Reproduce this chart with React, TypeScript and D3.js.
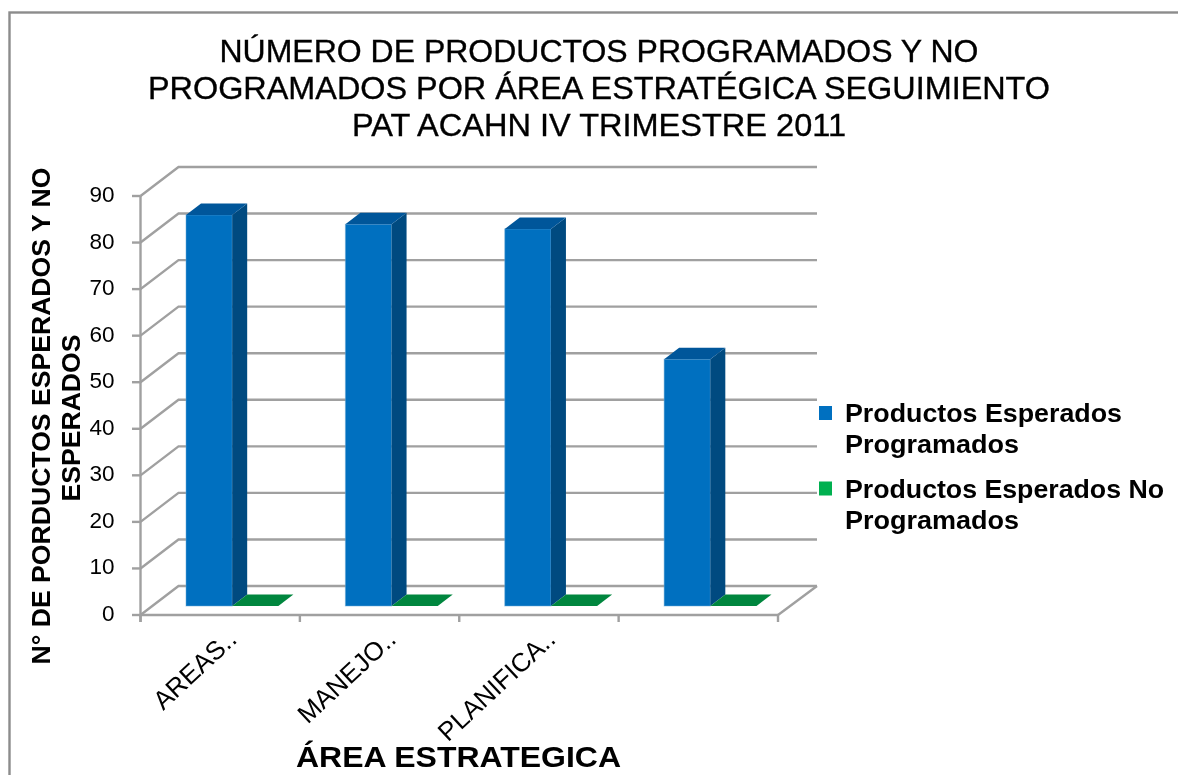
import React from "react";
import * as d3 from "d3";

const categories = ["AREAS..", "MANEJO..", "PLANIFICA..", ""];
const seriesNames = ["Productos Esperados Programados", "Productos Esperados No Programados"];
const programados = [84, 82, 81, 53];
const noProgramados = [0, 0, 0, 0];
const yTicks = [0, 10, 20, 30, 40, 50, 60, 70, 80, 90];
const titleLines = [
  "NÚMERO DE PRODUCTOS PROGRAMADOS Y NO",
  "PROGRAMADOS POR ÁREA ESTRATÉGICA SEGUIMIENTO",
  "PAT ACAHN IV TRIMESTRE 2011",
];
const yTitleLines = ["N° DE PORDUCTOS ESPERADOS Y NO", "ESPERADOS"];
const xTitle = "ÁREA ESTRATEGICA";
const legendLines = [["Productos Esperados", "Programados"], ["Productos Esperados No", "Programados"]];

const FONT = "'Liberation Sans', Arial, sans-serif";
const GRID = "#a0a0a0";
const GRID_W = 2.4;
const depth = { x: 38, y: -29 };
const barDepth = { x: 15, y: -11.5 };
const barFront = { x: 12, y: -9 };
const titleWidths = [759, 902, 494];
const yTitleWidths = [497, 167];
const legendWidths = [[277, 174], [319, 174]];

export default function App() {
  const x = d3.scaleBand<number>().domain(d3.range(categories.length)).range([140.5, 778]);
  const y = d3.scaleLinear().domain([0, 90]).range([615, 196]);
  const inner = d3.scaleBand<number>().domain([0, 1]).range([33.5, x.bandwidth() - 33.5]);
  const poly = (pts: [number, number][]) => pts.map((p) => p.join(",")).join(" ");
  const barBase = y(0) + barFront.y;
  const unit = y(0) - y(1);

  const bar = (cat: number, ser: number, v: number, c: [string, string, string]) => {
    const x0 = x(cat)! + barFront.x + inner(ser)!;
    const x1 = x0 + inner.bandwidth();
    const yb = barBase;
    const yt = barBase - v * unit;
    const dx = barDepth.x;
    const dy = barDepth.y;
    return (
      <g key={`${cat}-${ser}`}>
        {v > 0 && <rect x={x0} y={yt} width={x1 - x0} height={yb - yt} fill={c[0]} stroke="#6aa9d8" strokeOpacity={0.5} strokeWidth={1} />}
        {v > 0 && <polygon points={poly([[x1, yt], [x1 + dx, yt + dy], [x1 + dx, yb + dy], [x1, yb]])} fill={c[1]} />}
        <polygon points={poly([[x0, yt], [x0 + dx, yt + dy], [x1 + dx, yt + dy], [x1, yt]])} fill={c[2]} />
      </g>
    );
  };

  return (
    <svg width={1178} height={775} style={{ position: "fixed", left: 0, top: 0, background: "#fff" }} fontFamily={FONT}>
      <rect x={9.5} y={12.5} width={1175} height={770} fill="#fff" stroke="#8c8c8c" strokeWidth={2.4} />

      <g style={{ filter: "blur(0.45px)" }}>
        {titleLines.map((t, i) => (
          <text key={i} x={599} y={62 + i * 37} textAnchor="middle" fontSize={31.5} fill="#000" stroke="#000" strokeWidth={0.35}
            textLength={titleWidths[i]} lengthAdjust="spacingAndGlyphs">{t}</text>
        ))}

        {/* walls and gridlines */}
        {yTicks.map((t) => (
          <polyline key={t} fill="none" stroke={GRID} strokeWidth={GRID_W}
            points={poly([[140.5, y(t)], [140.5 + depth.x, y(t) + depth.y], [817, y(t) + depth.y]])} />
        ))}
        <line x1={817} y1={y(0) + depth.y} x2={778} y2={y(0)} stroke={GRID} strokeWidth={GRID_W} />

        {/* axes */}
        <line x1={140.5} y1={y(0) + 7} x2={140.5} y2={y(90)} stroke={GRID} strokeWidth={GRID_W} />
        <line x1={140.5} y1={y(0)} x2={778} y2={y(0)} stroke={GRID} strokeWidth={GRID_W} />
        {yTicks.map((t) => (
          <g key={t}>
            <line x1={132} x2={140.5} y1={y(t)} y2={y(t)} stroke={GRID} strokeWidth={GRID_W} />
            <text x={114.5} y={y(t) + 6} textAnchor="end" fontSize={22.5} fill="#000">{t}</text>
          </g>
        ))}
        {d3.range(categories.length + 1).map((i) => {
          const tx = 140.5 + i * x.bandwidth();
          return <line key={i} x1={tx} x2={tx} y1={y(0)} y2={y(0) + 7} stroke={GRID} strokeWidth={GRID_W} />;
        })}

        {/* bars */}
        {categories.map((_, i) => (
          <g key={i}>
            {bar(i, 0, programados[i], ["#0070c0", "#004a80", "#00569a"])}
            {bar(i, 1, noProgramados[i], ["#00b050", "#007a38", "#00863e"])}
          </g>
        ))}

        {/* category labels */}
        {categories.map((c, i) => (
          <text key={i} textAnchor="end" fontSize={26} fill="#000"
            transform={`translate(${x(i)! + x.bandwidth() / 2 + 18},${y(0) + 26}) rotate(-43)`}>{c}</text>
        ))}

        {/* axis titles */}
        <text x={458.5} y={767} textAnchor="middle" fontSize={30} fontWeight={700} fill="#000"
          textLength={325} lengthAdjust="spacingAndGlyphs">{xTitle}</text>
        {yTitleLines.map((t, i) => (
          <text key={i} textAnchor="middle" fontSize={25.5} fontWeight={700} fill="#000"
            textLength={yTitleWidths[i]} lengthAdjust="spacingAndGlyphs"
            transform={`translate(${50 + i * 30},${416 + i * 2}) rotate(-90)`}>{t}</text>
        ))}

        {/* legend */}
        {legendLines.map((lines, i) => (
          <g key={i}>
            <rect x={819} y={406 + i * 75.5} width={13} height={14} fill={i === 0 ? "#0070c0" : "#00b050"} />
            {lines.map((l, j) => (
              <text key={j} x={845} y={422 + i * 75.5 + j * 31} fontSize={25} fontWeight={700} fill="#000"
                textLength={legendWidths[i][j]} lengthAdjust="spacingAndGlyphs">{l}</text>
            ))}
          </g>
        ))}
      </g>
      <title>{seriesNames.join(" / ")}</title>
    </svg>
  );
}
